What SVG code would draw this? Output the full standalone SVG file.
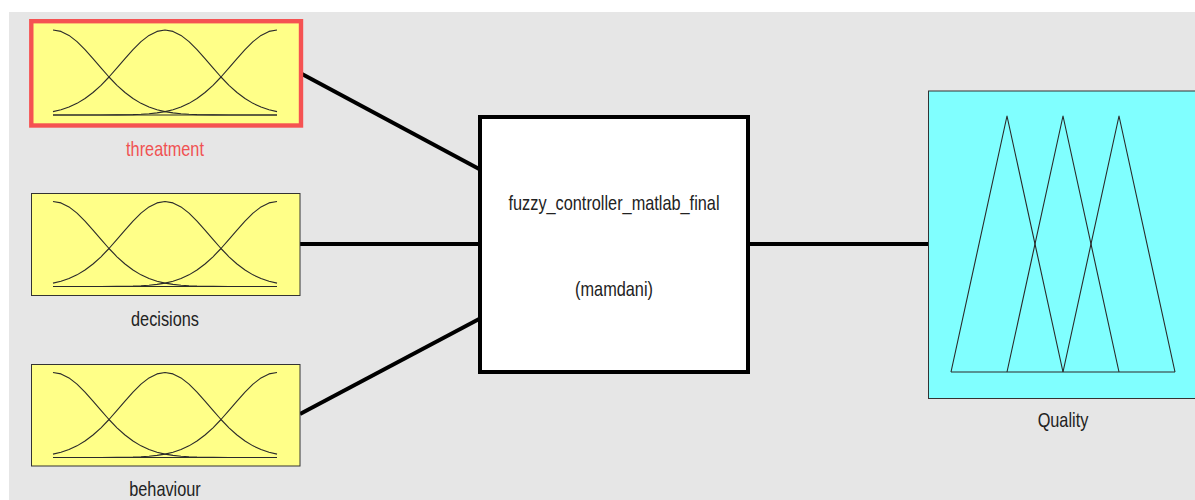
<svg xmlns="http://www.w3.org/2000/svg" xmlns:xlink="http://www.w3.org/1999/xlink" width="1195" height="500" viewBox="0 0 1195 500">
<style>
.lbl{font-family:"Liberation Sans",Arial,sans-serif;font-size:16.3px;fill:#222;text-anchor:middle}
.red{fill:#f05252}
.mf{fill:none;stroke:#2a2a2a;stroke-width:1.1;stroke-linejoin:round}
.conn{stroke:#000;stroke-width:4;fill:none}
.inbox{fill:#ffff88;stroke:#333;stroke-width:1}
</style>
<defs>
<g id="gauss">
<polyline class="mf" points="0,0 8,1.39 16,5.41 24,11.68 32,19.64 40,28.63 48,37.94 56,47 64,55.29 72,62.53 80,68.56 88,73.36 96,77.02 104,79.71 112,81.6 120,82.89 128,83.73 136,84.26 144,84.59 160,84.88 176,84.97 224,85"/>
<polyline class="mf" points="0,81.6 8,79.71 16,77.02 24,73.36 32,68.56 40,62.53 48,55.29 56,47 64,37.94 72,28.63 80,19.64 88,11.68 96,5.41 104,1.39 112,0 120,1.39 128,5.41 136,11.68 144,19.64 152,28.63 160,37.94 168,47 176,55.29 184,62.53 192,68.56 200,73.36 208,77.02 216,79.71 224,81.6"/>
<polyline class="mf" points="224,0 216,1.39 208,5.41 200,11.68 192,19.64 184,28.63 176,37.94 168,47 160,55.29 152,62.53 144,68.56 136,73.36 128,77.02 120,79.71 112,81.6 104,82.89 96,83.73 88,84.26 80,84.59 64,84.88 48,84.97 0,85"/>
<line class="mf" x1="0" y1="85" x2="224" y2="85"/>
</g>
</defs>
<rect x="0" y="0" width="1195" height="500" fill="#ffffff"/>
<rect x="9" y="12" width="1186" height="488" fill="#e6e6e6"/>

<g id="connectors">
<line class="conn" x1="302" y1="74" x2="481" y2="170"/>
<line class="conn" x1="300" y1="244" x2="481" y2="244"/>
<line class="conn" x1="300" y1="414" x2="481" y2="318"/>
<line class="conn" x1="748" y1="244" x2="929" y2="244"/>
</g>

<g id="threatment">
<rect x="31.3" y="21.2" width="269.7" height="104.3" fill="#ffff88" stroke="#f55252" stroke-width="4.4"/>
<use xlink:href="#gauss" x="53" y="30"/>
<text class="lbl red" transform="translate(165,156) scale(1,1.26)">threatment</text>
</g>

<g id="decisions">
<rect class="inbox" x="31.5" y="193.5" width="268.5" height="102"/>
<use xlink:href="#gauss" x="53" y="201.5"/>
<text class="lbl" transform="translate(165,326) scale(1,1.26)">decisions</text>
</g>

<g id="behaviour">
<rect class="inbox" x="31.5" y="364.5" width="268.5" height="101.5"/>
<use xlink:href="#gauss" x="53" y="372.5"/>
<text class="lbl" transform="translate(165,496) scale(1,1.26)">behaviour</text>
</g>

<g id="controller">
<rect x="480" y="117" width="268" height="255" fill="#ffffff" stroke="#000" stroke-width="4"/>
<text class="lbl" transform="translate(614,210) scale(1,1.26)">fuzzy_controller_matlab_final</text>
<text class="lbl" transform="translate(614,296) scale(1,1.26)">(mamdani)</text>
</g>

<g id="quality">
<rect x="928.5" y="91" width="280" height="307.5" fill="#80ffff" stroke="#333" stroke-width="1"/>
<polyline class="mf" points="951,372 1007,116 1063,372"/>
<polyline class="mf" points="1007,372 1063,116 1119,372"/>
<polyline class="mf" points="1063,372 1119,116 1175,372"/>
<line class="mf" x1="951" y1="372" x2="1175" y2="372"/>
<text class="lbl" transform="translate(1063,427) scale(1,1.26)">Quality</text>
</g>
</svg>
